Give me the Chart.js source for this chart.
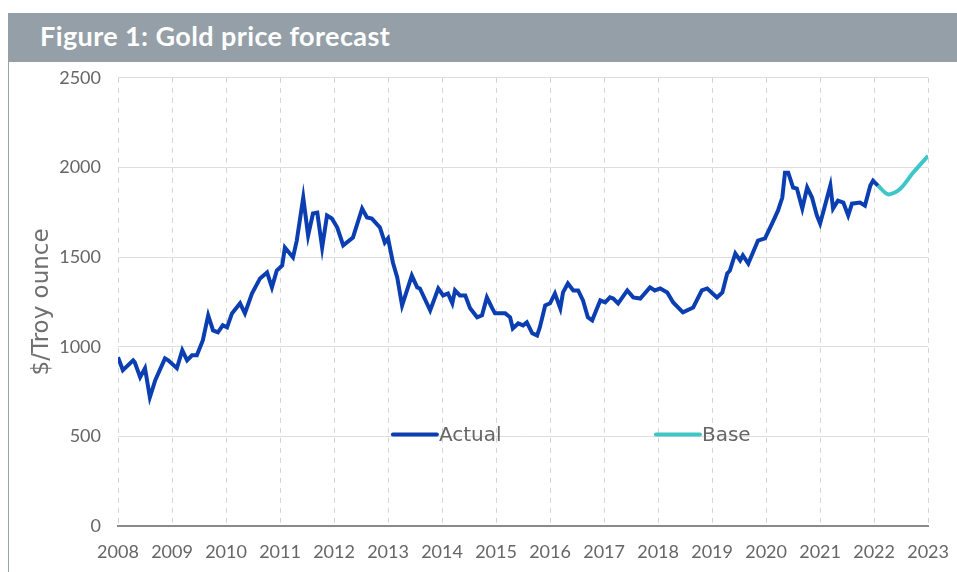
<!DOCTYPE html>
<html>
<head>
<meta charset="utf-8">
<script src="https://cdn.jsdelivr.net/npm/chart.js@4"></script>
<style>
  body { margin: 0; background: #fff; width: 957px; height: 572px; overflow: hidden; position: relative; font-family: Lato, "Open Sans", sans-serif; }
  #titleBar { position: absolute; left: 8px; top: 13px; width: 949px; height: 49px; background: #959fa8; z-index: 2; }
  #titleBar span { position: absolute; left: 32px; top: 6px; color: #fff; font-weight: bold; font-size: 27px; letter-spacing: 0.4px; }
  #panel { position: absolute; left: 8px; top: 62px; width: 949px; height: 510px; border-left: 1px solid #9aa3aa; }
  #chartBox { position: absolute; left: 9px; top: 50px; width: 955px; height: 522px; }
</style>
</head>
<body>
<div id="panel"></div>
<div id="chartBox"><canvas id="goldChart"></canvas></div>
<div id="titleBar"><span>Figure 1: Gold price forecast</span></div>

<script>
// Actual gold price (decimal year, $/troy ounce)
const actualYears = [
    2008.00, 2008.09, 2008.28, 2008.31, 2008.41, 2008.50, 2008.59, 2008.69, 2008.87, 2008.93,
    2009.09, 2009.19, 2009.28, 2009.37, 2009.46, 2009.57, 2009.67, 2009.76, 2009.85, 2009.94,
    2010.02, 2010.11, 2010.26, 2010.35, 2010.48, 2010.63, 2010.76, 2010.85, 2010.94,
    2011.04, 2011.09, 2011.24, 2011.31, 2011.43, 2011.52, 2011.61, 2011.69, 2011.78, 2011.87, 2011.96,
    2012.06, 2012.17, 2012.35, 2012.52, 2012.61, 2012.70, 2012.85, 2012.94,
    2013.00, 2013.09, 2013.17, 2013.26, 2013.44, 2013.54, 2013.59, 2013.78, 2013.93,
    2014.02, 2014.11, 2014.19, 2014.24, 2014.33, 2014.43, 2014.52, 2014.65, 2014.74, 2014.83, 2014.93, 2014.98,
    2015.17, 2015.26, 2015.31, 2015.41, 2015.50, 2015.57, 2015.67, 2015.76, 2015.81, 2015.91,
    2016.00, 2016.09, 2016.19, 2016.24, 2016.33, 2016.43, 2016.52, 2016.61, 2016.70, 2016.78, 2016.87, 2016.93,
    2017.02, 2017.11, 2017.17, 2017.26, 2017.43, 2017.54, 2017.67, 2017.85, 2017.94,
    2018.04, 2018.17, 2018.28, 2018.46, 2018.65, 2018.81, 2018.91,
    2019.09, 2019.19, 2019.28, 2019.33, 2019.43, 2019.52, 2019.57, 2019.67, 2019.85, 2019.98,
    2020.11, 2020.22, 2020.30, 2020.35, 2020.41, 2020.50, 2020.57, 2020.67, 2020.76, 2020.85, 2020.94,
    2021.00, 2021.09, 2021.19, 2021.24, 2021.33, 2021.43, 2021.52, 2021.59, 2021.74, 2021.83, 2021.93, 2021.98,
    2022.07
];
const actualValues = [
    941, 869, 924, 913, 830, 880, 718, 813, 935, 924,
    880, 980, 924, 952, 952, 1035, 1175, 1091, 1080, 1119,
    1108, 1186, 1242, 1186, 1297, 1381, 1414, 1331, 1425,
    1453, 1553, 1498, 1592, 1832, 1620, 1743, 1748, 1553, 1732, 1715,
    1665, 1565, 1609, 1771, 1721, 1715, 1665, 1581,
    1604, 1470, 1386, 1230, 1397, 1331, 1325, 1203, 1325,
    1286, 1297, 1242, 1314, 1286, 1286, 1214, 1164, 1175, 1275, 1214, 1186,
    1186, 1164, 1102, 1130, 1119, 1136, 1075, 1063, 1108, 1230,
    1242, 1297, 1214, 1303, 1353, 1314, 1314, 1258, 1164, 1147, 1214, 1258,
    1247, 1275, 1269, 1242, 1314, 1275, 1269, 1331, 1314,
    1325, 1303, 1247, 1192, 1219, 1314, 1325,
    1275, 1303, 1409, 1425, 1520, 1481, 1509, 1464, 1592, 1604,
    1687, 1759, 1832, 1971, 1971, 1888, 1882, 1771, 1888, 1832, 1732,
    1687, 1787, 1899, 1771, 1815, 1804, 1732, 1798, 1804, 1787, 1899, 1926,
    1899
];

// Base forecast
const baseYears = [2022.07, 2022.26, 2022.48, 2022.72, 2023.00];
const baseValues = [1899, 1850, 1880, 1970, 2065];

const yearTicks = [2008, 2009, 2010, 2011, 2012, 2013, 2014, 2015, 2016, 2017, 2018, 2019, 2020, 2021, 2022, 2023];
const priceTicks = [0, 500, 1000, 1500, 2000, 2500];

const actualColor = '#0b3eb0';
const baseColor = '#3fc6c6';
const textColor = '#666666';

function toPoints(xs, ys) {
    return xs.map(function (x, i) { return { x: x, y: ys[i] }; });
}

// Draws the legend inside the plot area, like the original
const innerLegend = {
    id: 'innerLegend',
    afterDatasetsDraw: function (chart) {
        const ctx = chart.ctx;
        const xs = chart.scales.x;
        const ys = chart.scales.y;
        const y = ys.getPixelForValue(510);
        const items = [
            { label: chart.data.datasets[0].label, color: actualColor, at: 2013.09 },
            { label: chart.data.datasets[1].label, color: baseColor, at: 2017.96 }
        ];
        ctx.save();
        ctx.font = '20px "DejaVu Sans", sans-serif';
        ctx.textBaseline = 'middle';
        items.forEach(function (item) {
            const x0 = xs.getPixelForValue(item.at);
            ctx.strokeStyle = item.color;
            ctx.lineWidth = 4;
            ctx.lineCap = 'round';
            ctx.beginPath();
            ctx.moveTo(x0, y);
            ctx.lineTo(x0 + 44, y);
            ctx.stroke();
            ctx.fillStyle = textColor;
            ctx.fillText(item.label, x0 + 46, y + 1);
        });
        ctx.restore();
    }
};

const ctx = document.getElementById('goldChart').getContext('2d');
const goldChart = new Chart(ctx, {
    type: 'line',
    data: {
        datasets: [{
            label: 'Actual',
            data: toPoints(actualYears, actualValues),
            borderColor: actualColor,
            borderWidth: 4,
            pointRadius: 0,
            tension: 0
        }, {
            label: 'Base',
            data: toPoints(baseYears, baseValues),
            borderColor: baseColor,
            borderWidth: 4,
            pointRadius: 0,
            tension: 0.3
        }]
    },
    options: {
        responsive: true,
        maintainAspectRatio: false,
        animation: false,
        layout: { padding: { left: 0, right: 22, top: 9, bottom: 0 } },
        plugins: {
            legend: { display: false },
            tooltip: { enabled: false }
        },
        scales: {
            x: {
                type: 'linear',
                min: 2008,
                max: 2023,
                afterBuildTicks: function (scale) {
                    scale.ticks = yearTicks.map(function (v) { return { value: v }; });
                },
                afterFit: function (scale) { scale.height = 46; },
                ticks: {
                    color: textColor,
                    font: { family: 'Lato', size: 18 },
                    padding: 15,
                    maxRotation: 0,
                    autoSkip: false,
                    callback: function (v) { return String(v); }
                },
                grid: { color: '#d4d4d4', lineWidth: 1, drawTicks: false },
                border: { display: true, color: '#8a8a8a', width: 2, dash: [5, 5] }
            },
            y: {
                min: 0,
                max: 2500,
                afterBuildTicks: function (scale) {
                    scale.ticks = priceTicks.map(function (v) { return { value: v }; });
                },
                afterFit: function (scale) { scale.width = 109; },
                ticks: {
                    color: textColor,
                    font: { family: 'Lato', size: 18 },
                    padding: 17,
                    callback: function (v) { return String(v); }
                },
                grid: { color: '#dedede', lineWidth: 1, drawTicks: false },
                border: { display: false },
                title: {
                    display: true,
                    text: '$/Troy ounce',
                    color: '#707070',
                    font: { family: 'DejaVu Sans', size: 23 },
                    padding: { top: 19, bottom: 0 }
                }
            }
        }
    },
    plugins: [innerLegend]
});
</script>
</body>
</html>
